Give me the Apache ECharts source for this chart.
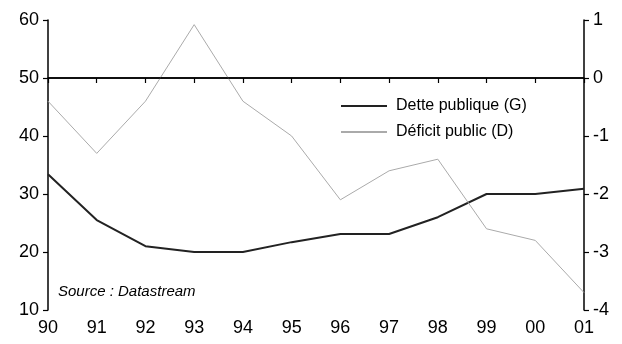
<!DOCTYPE html>
<html>
<head>
<meta charset="UTF-8">
<script src="https://cdn.jsdelivr.net/npm/echarts@6/dist/echarts.min.js"></script>
<style>
  html, body { margin: 0; height: 100%; background: #fff; }
  #main { width: 622px; height: 344px; }
</style>
</head>
<body>
<div id="main"></div>
<script>
var years = ['90', '91', '92', '93', '94', '95', '96', '97', '98', '99', '00', '01'];
var dette = [33.4, 25.5, 21.0, 20.0, 20.0, 21.7, 23.1, 23.1, 26.0, 30.0, 30.0, 30.9];
var deficit = [-0.4, -1.3, -0.4, 0.92, -0.4, -1.0, -2.1, -1.6, -1.4, -2.6, -2.8, -3.7];
var detteName = 'Dette publique (G)';
var deficitName = 'Déficit public (D)';

var chart = echarts.init(document.getElementById('main'));
var font = 'Liberation Sans, Arial, sans-serif';
var axisLine = { show: true, lineStyle: { color: '#000', width: 1.5 } };
var axisTick = { show: true, length: 5, lineStyle: { color: '#000', width: 1.2 } };

chart.setOption({
  animation: false,
  grid: { left: 48, right: 38, top: 20, bottom: 34 },
  legend: {
    orient: 'vertical',
    left: 336,
    top: 93,
    itemWidth: 46,
    itemHeight: 2,
    itemGap: 10,
    icon: 'rect',
    textStyle: { fontFamily: font, fontSize: 16, color: '#000', padding: [0, 0, 0, 4] },
    data: [detteName, deficitName]
  },
  graphic: [{
    type: 'text', left: 58, top: 284,
    style: { text: 'Source : Datastream', font: 'italic 15px ' + font, fill: '#000' }
  }],
  xAxis: {
    type: 'category',
    data: years,
    boundaryGap: false,
    axisLine: axisLine,
    axisTick: axisTick,
    axisLabel: { fontFamily: font, fontSize: 18, color: '#000', margin: 9 },
    splitLine: { show: false }
  },
  yAxis: [{
    type: 'value', min: 10, max: 60, interval: 10,
    axisLine: axisLine,
    axisTick: axisTick,
    axisLabel: { fontFamily: font, fontSize: 18, color: '#000', margin: 9 },
    splitLine: { show: false }
  }, {
    type: 'value', min: -4, max: 1, interval: 1, position: 'right',
    axisLine: axisLine,
    axisTick: axisTick,
    axisLabel: { fontFamily: font, fontSize: 18, color: '#000', margin: 9 },
    splitLine: { show: false }
  }],
  series: [{
    name: detteName,
    type: 'line',
    yAxisIndex: 0,
    data: dette,
    symbol: 'none',
    color: '#222',
    lineStyle: { color: '#222', width: 2 },
    markLine: {
      silent: true, symbol: 'none',
      label: { show: false },
      lineStyle: { color: '#000', width: 1.5, type: 'solid' },
      data: [{ yAxis: 50 }]
    }
  }, {
    name: deficitName,
    type: 'line',
    yAxisIndex: 1,
    data: deficit,
    symbol: 'none',
    color: '#aaa',
    lineStyle: { color: '#aaa', width: 1 }
  }]
});
</script>
</body>
</html>
